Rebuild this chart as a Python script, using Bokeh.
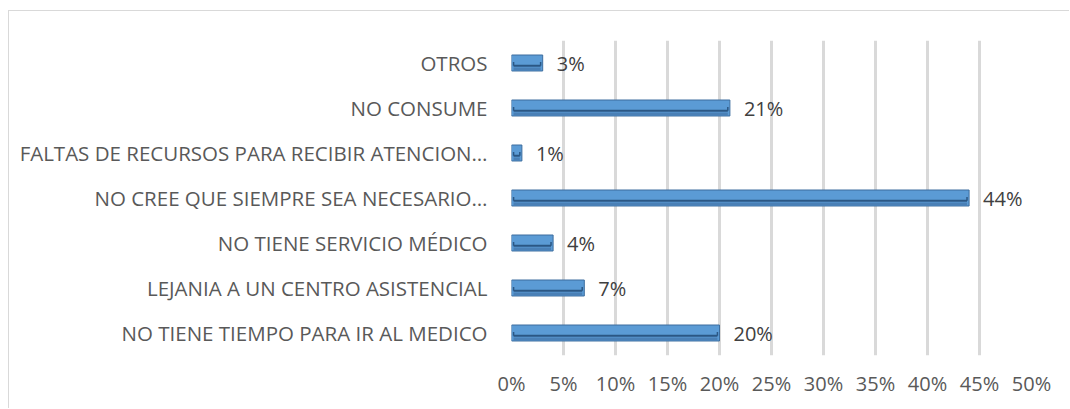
from bokeh.plotting import figure
from bokeh.models import ColumnDataSource, FixedTicker, NumeralTickFormatter, Range1d
from bokeh.core.properties import value
from bokeh.embed import file_html
from bokeh.resources import INLINE

categories = [
    "NO TIENE TIEMPO PARA IR AL MEDICO",
    "LEJANIA A UN CENTRO ASISTENCIAL",
    "NO TIENE SERVICIO MÉDICO",
    "NO CREE QUE SIEMPRE SEA NECESARIO…",
    "FALTAS DE RECURSOS PARA RECIBIR ATENCION…",
    "NO CONSUME",
    "OTROS",
]
values = [0.20, 0.07, 0.04, 0.44, 0.01, 0.21, 0.03]
labels = ["20%", "7%", "4%", "44%", "1%", "21%", "3%"]
x_ticks = [0, 0.05, 0.10, 0.15, 0.20, 0.25, 0.30, 0.35, 0.40, 0.45, 0.50]

FONT = "Open Sans"
FS = "20px"
ypos = list(range(len(categories)))

src = ColumnDataSource(dict(
    y=ypos, v=values, lab=labels,
    y_line=[y - 0.06 for y in ypos],
    y_tick=[y + 0.02 for y in ypos],
    y_low=[y - 0.135 for y in ypos],
    x0=[0.002 for _ in values],
    x1=[v - 0.002 for v in values],
))

# figure placed at (8, 10) with a light border on left/top
OX, OY = 9, 11
p = figure(width=1070 - OX, height=409 - OY, output_backend="svg", toolbar_location=None,
           x_range=Range1d(0, 0.5), y_range=Range1d(-0.5, len(categories) - 0.5),
           min_border_left=511 - OX, min_border_right=39, min_border_top=40 - OY,
           min_border_bottom=54)
p.margin = (OY - 1, 0, 0, OX - 1)
p.styles = {"border-left": "1px solid #d9d9d9", "border-top": "1px solid #d9d9d9"}
p.outline_line_color = None
p.background_fill_color = "white"
p.border_fill_color = "white"

p.xgrid.ticker = FixedTicker(ticks=x_ticks)
p.xgrid.grid_line_color = "#d9d9d9"
p.xgrid.grid_line_width = 3
p.ygrid.grid_line_color = None

p.hbar(y="y", right="v", left=0, height=0.355, source=src,
       fill_color="#5b9bd5", line_color="#3d6d9e", line_width=1)
p.segment(x0="x0", x1="x1", y0="y_low", y1="y_low", source=src,
          line_color="#4a80b6", line_width=3)
p.segment(x0="x0", x1="x1", y0="y_line", y1="y_line", source=src,
          line_color="#2b5784", line_width=2)
p.segment(x0="x0", x1="x0", y0="y_line", y1="y_tick", source=src,
          line_color="#2b5784", line_width=1.5)
p.segment(x0="x1", x1="x1", y0="y_line", y1="y_tick", source=src,
          line_color="#2b5784", line_width=1.5)
p.text(x="v", y="y", text="lab", source=src, x_offset=14, text_baseline="middle",
       text_font=value(FONT), text_font_size=FS, text_color="#404040")

p.xaxis.ticker = FixedTicker(ticks=x_ticks)
p.xaxis.formatter = NumeralTickFormatter(format="0%")
p.xaxis.axis_line_color = None
p.xaxis.major_tick_line_color = None
p.xaxis.minor_tick_line_color = None
p.xaxis.major_label_standoff = 8
p.xaxis.major_label_text_font = FONT
p.xaxis.major_label_text_font_size = FS
p.xaxis.major_label_text_color = "#595959"

p.yaxis.ticker = FixedTicker(ticks=ypos)
p.yaxis.major_label_overrides = {i: c for i, c in zip(ypos, categories)}
p.yaxis.axis_line_color = None
p.yaxis.major_tick_line_color = None
p.yaxis.minor_tick_line_color = None
p.yaxis.major_label_standoff = 18
p.yaxis.major_label_text_font = FONT
p.yaxis.major_label_text_font_size = "20.5px"
p.yaxis.major_label_text_color = "#595959"

open("out.html", "w").write(file_html(p, INLINE))
